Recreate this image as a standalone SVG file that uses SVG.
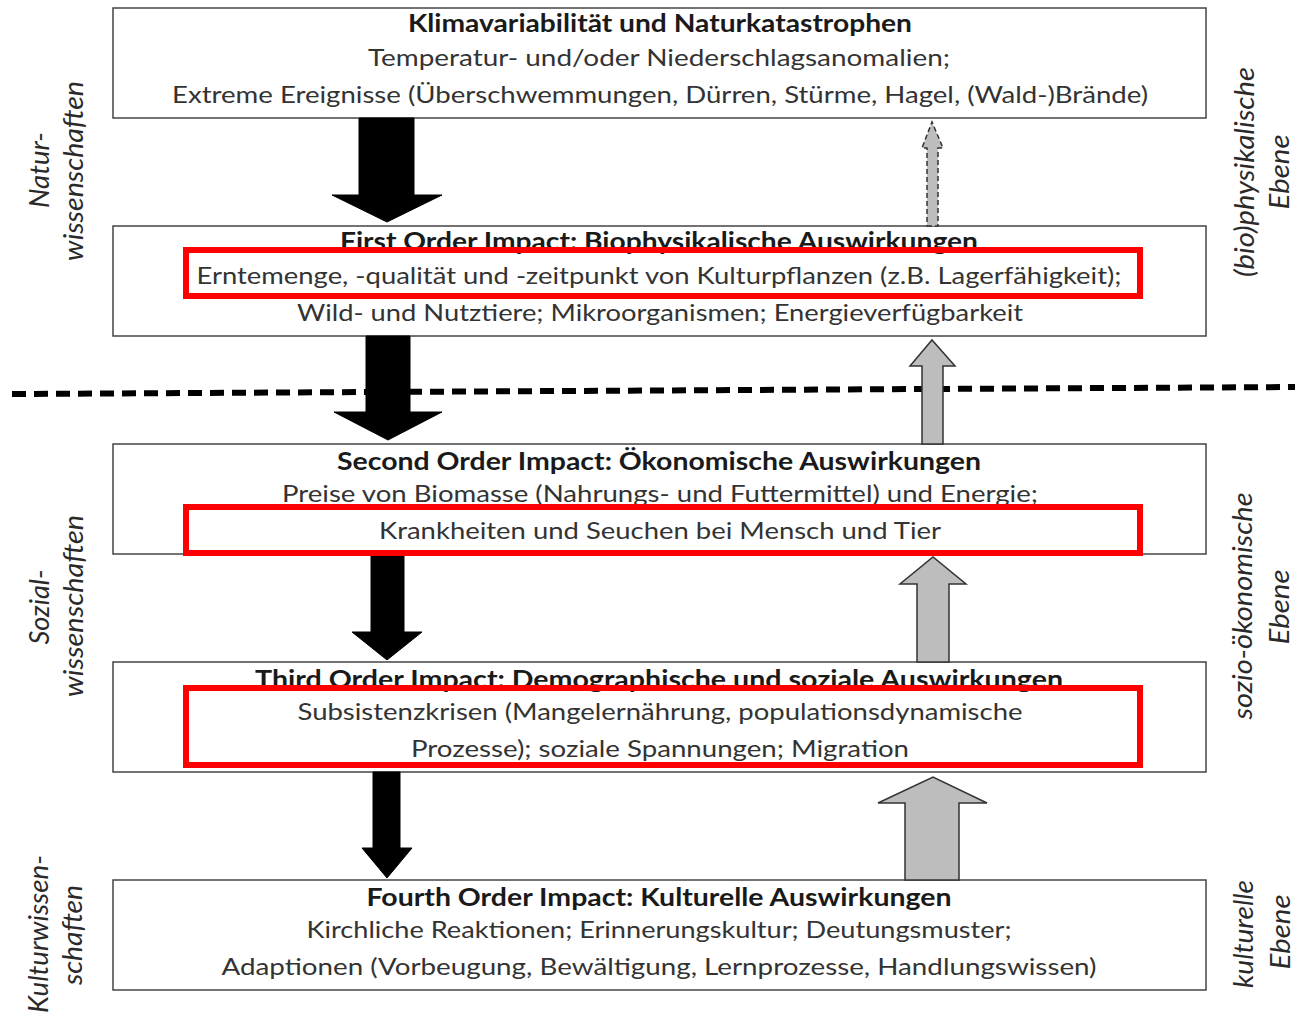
<svg xmlns="http://www.w3.org/2000/svg" width="1295" height="1013" viewBox="0 0 1295 1013">
<style>
.box{fill:#fff;stroke:#444;stroke-width:1.5}
.t{font-family:Lato,"Liberation Sans",sans-serif;font-size:24px;fill:#333;text-anchor:middle}
.b{font-weight:bold;fill:#1a1a1a}
.side{font-family:Lato,"Liberation Sans",sans-serif;font-size:27px;font-style:italic;fill:#2a2a2a;text-anchor:middle}
.down{fill:#000;stroke:#000;stroke-width:1}
.up{fill:#bdbdbd;stroke:#333;stroke-width:1.5;stroke-linejoin:miter}
.hl{fill:none;stroke:#f00;stroke-width:6}
</style>
<rect width="1295" height="1013" fill="#fff"/>
<g id="divider">
<line x1="12" y1="394" x2="1295" y2="387" stroke="#000" stroke-width="6" stroke-dasharray="14,8"/>
</g>
<g id="node1">
<rect class="box" x="113" y="8" width="1093" height="110"/>
<text class="t b" x="660" y="32" textLength="504" lengthAdjust="spacingAndGlyphs">Klimavariabilität und Naturkatastrophen</text>
<text class="t" x="659" y="66" textLength="582" lengthAdjust="spacingAndGlyphs">Temperatur- und/oder Niederschlagsanomalien;</text>
<text class="t" x="660" y="103" textLength="976" lengthAdjust="spacingAndGlyphs">Extreme Ereignisse (Überschwemmungen, Dürren, Stürme, Hagel, (Wald-)Brände)</text>
</g>
<g id="node2">
<rect class="box" x="113" y="226" width="1093" height="110"/>
<text class="t b" x="659" y="250" textLength="638" lengthAdjust="spacingAndGlyphs">First Order Impact: Biophysikalische Auswirkungen</text>
<text class="t" x="659" y="284" textLength="925" lengthAdjust="spacingAndGlyphs">Erntemenge, -qualität und -zeitpunkt von Kulturpflanzen (z.B. Lagerfähigkeit);</text>
<text class="t" x="660" y="321" textLength="726" lengthAdjust="spacingAndGlyphs">Wild- und Nutztiere; Mikroorganismen; Energieverfügbarkeit</text>
</g>
<g id="node3">
<rect class="box" x="113" y="444" width="1093" height="110"/>
<text class="t b" x="659" y="470" textLength="644" lengthAdjust="spacingAndGlyphs">Second Order Impact: Ökonomische Auswirkungen</text>
<text class="t" x="660" y="502" textLength="756" lengthAdjust="spacingAndGlyphs">Preise von Biomasse (Nahrungs- und Futtermittel) und Energie;</text>
<text class="t" x="660" y="539" textLength="562" lengthAdjust="spacingAndGlyphs">Krankheiten und Seuchen bei Mensch und Tier</text>
</g>
<g id="node4">
<rect class="box" x="113" y="662" width="1093" height="110"/>
<text class="t b" x="659" y="688" textLength="808" lengthAdjust="spacingAndGlyphs">Third Order Impact: Demographische und soziale Auswirkungen</text>
<text class="t" x="660" y="720" textLength="725" lengthAdjust="spacingAndGlyphs">Subsistenzkrisen (Mangelernährung, populationsdynamische</text>
<text class="t" x="660" y="757" textLength="498" lengthAdjust="spacingAndGlyphs">Prozesse); soziale Spannungen; Migration</text>
</g>
<g id="node5">
<rect class="box" x="113" y="880" width="1093" height="110"/>
<text class="t b" x="659" y="906" textLength="585" lengthAdjust="spacingAndGlyphs">Fourth Order Impact: Kulturelle Auswirkungen</text>
<text class="t" x="659" y="938" textLength="705" lengthAdjust="spacingAndGlyphs">Kirchliche Reaktionen; Erinnerungskultur; Deutungsmuster;</text>
<text class="t" x="659" y="975" textLength="875" lengthAdjust="spacingAndGlyphs">Adaptionen (Vorbeugung, Bewältigung, Lernprozesse, Handlungswissen)</text>
</g>
<g id="connectors">
<polygon class="down" points="359,118 414,118 414,195 442,195 387,222 332,195 359,195"/>
<polygon class="down" points="366,336 410,336 410,412 442,412 388,440 334,412 366,412"/>
<polygon class="down" points="371,554 404,554 404,632 422,632 387,660 352,632 371,632"/>
<polygon class="down" points="373,772 400,772 400,848 412,848 387,878 362,848 373,848"/>
<polygon class="up" stroke-dasharray="5,3" points="927,226 938,226 938,148 943,148 932,122 922,148 927,148"/>
<polygon class="up" points="922,444 943,444 943,366 955,366 932,340 910,366 922,366"/>
<polygon class="up" points="917,662 949,662 949,584 966,584 933,557 900,584 917,584"/>
<polygon class="up" points="905,880 959,880 959,803 987,803 933,777 878,803 905,803"/>
</g>
<g id="labels-left">
<text class="side" transform="translate(49,170) rotate(-90)" textLength="76" lengthAdjust="spacingAndGlyphs">Natur-</text>
<text class="side" transform="translate(83,171) rotate(-90)" textLength="180" lengthAdjust="spacingAndGlyphs">wissenschaften</text>
<text class="side" transform="translate(49,607) rotate(-90)" textLength="75" lengthAdjust="spacingAndGlyphs">Sozial-</text>
<text class="side" transform="translate(83,606) rotate(-90)" textLength="182" lengthAdjust="spacingAndGlyphs">wissenschaften</text>
<text class="side" transform="translate(48,934) rotate(-90)" textLength="158" lengthAdjust="spacingAndGlyphs">Kulturwissen-</text>
<text class="side" transform="translate(82,935) rotate(-90)" textLength="100" lengthAdjust="spacingAndGlyphs">schaften</text>
</g>
<g id="labels-right">
<text class="side" transform="translate(1254,172) rotate(-90)" textLength="210" lengthAdjust="spacingAndGlyphs">(bio)physikalische</text>
<text class="side" transform="translate(1289,172) rotate(-90)" textLength="75" lengthAdjust="spacingAndGlyphs">Ebene</text>
<text class="side" transform="translate(1252,606) rotate(-90)" textLength="227" lengthAdjust="spacingAndGlyphs">sozio-ökonomische</text>
<text class="side" transform="translate(1289,607) rotate(-90)" textLength="75" lengthAdjust="spacingAndGlyphs">Ebene</text>
<text class="side" transform="translate(1253,934) rotate(-90)" textLength="108" lengthAdjust="spacingAndGlyphs">kulturelle</text>
<text class="side" transform="translate(1290,932) rotate(-90)" textLength="75" lengthAdjust="spacingAndGlyphs">Ebene</text>
</g>
<g id="highlights">
<rect class="hl" x="186" y="250" width="954" height="46"/>
<rect class="hl" x="186" y="507" width="954" height="46"/>
<rect class="hl" x="186" y="688" width="954" height="77"/>
</g>
</svg>
